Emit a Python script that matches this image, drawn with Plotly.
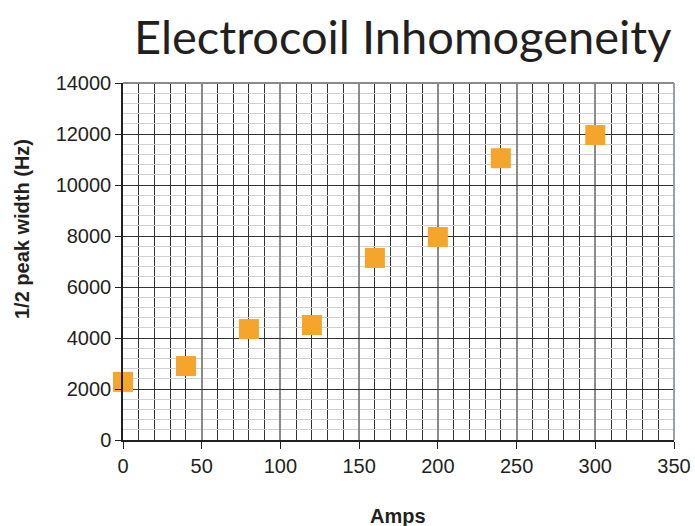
import plotly.graph_objects as go

amps = [0, 40, 80, 120, 160, 200, 240, 300]
half_width = [2280, 2900, 4350, 4510, 7140, 7960, 11050, 11960]

x_ticks = [0, 50, 100, 150, 200, 250, 300, 350]
y_ticks = [0, 2000, 4000, 6000, 8000, 10000, 12000, 14000]
y_ticktext = [str(v) for v in y_ticks]

TXT = "#231F20"

fig = go.Figure()
fig.add_trace(go.Scatter(
    x=amps, y=half_width, mode="markers", cliponaxis=False,
    marker=dict(symbol="square", size=20, color="#F5A52C", line=dict(width=0)),
    showlegend=False,
))

fig.update_layout(
    width=695, height=526,
    margin=dict(l=123, r=21, t=83, b=86, autoexpand=False),
    paper_bgcolor="white", plot_bgcolor="white",
    font=dict(family="Liberation Sans, Arial", color=TXT),
)

fig.update_xaxes(
    range=[0, 350], tickvals=x_ticks, ticks="outside", ticklen=7, tickcolor=TXT,
    tickfont=dict(size=20, family="Liberation Sans", color=TXT),
    showline=True, linecolor=TXT, linewidth=1.5, mirror=False,
    showgrid=True, gridcolor="#8a8a8a", gridwidth=1.5,
    minor=dict(dtick=10, showgrid=True, gridcolor="#333333", gridwidth=1.2),
    zeroline=False, automargin=False,
)
fig.update_yaxes(
    range=[0, 14000], tickvals=y_ticks, ticktext=y_ticktext, ticks="outside", ticklen=6,
    tickcolor=TXT,
    tickfont=dict(size=20, family="Liberation Sans", color=TXT),
    showline=True, linecolor=TXT, linewidth=1.5,
    showgrid=True, gridcolor="#333333", gridwidth=1.2,
    minor=dict(dtick=400, showgrid=True, gridcolor="#cfcfd6", gridwidth=1.2),
    zeroline=False, automargin=False,
)

# top and right border
fig.add_shape(type="line", xref="paper", yref="paper", x0=0, x1=1, y0=1, y1=1,
              line=dict(color="#8a8a8a", width=2))
fig.add_shape(type="line", xref="paper", yref="paper", x0=1, x1=1, y0=0, y1=1,
              line=dict(color="#9aa0a8", width=2))

# title and axis titles
fig.add_annotation(text="Electrocoil Inhomogeneity", xref="paper", yref="paper",
                   x=(402 - 123) / 551, y=1 + (83 - 36) / 357, xanchor="center", yanchor="middle",
                   showarrow=False, font=dict(family="Lato", size=47, color=TXT))
fig.add_annotation(text="<b>Amps</b>", xref="paper", yref="paper",
                   x=(398 - 123) / 551, y=-(516 - 440) / 357, xanchor="center", yanchor="middle",
                   showarrow=False, font=dict(family="Liberation Sans", size=20, color=TXT))
fig.add_annotation(text="<b>1/2 peak width (Hz)</b>", xref="paper", yref="paper",
                   x=-(123 - 22) / 551, y=(440 - 229) / 357, xanchor="center", yanchor="middle",
                   textangle=-90,
                   showarrow=False, font=dict(family="Liberation Sans", size=20, color=TXT))

fig.write_html("out.html")
